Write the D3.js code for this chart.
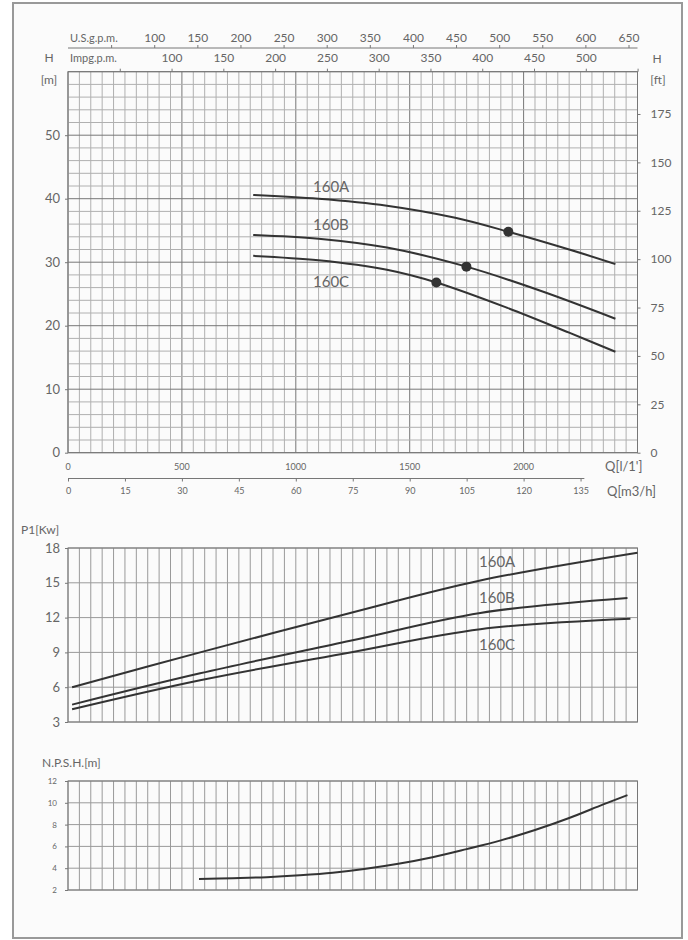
<!DOCTYPE html>
<html>
<head>
<meta charset="utf-8">
<script src="https://cdn.jsdelivr.net/npm/d3@7"></script>
<style>
  body { margin: 0; background: #fff; }
  svg { display: block; font-family: "Lato", "DejaVu Sans", sans-serif; }
  .lbl { fill: #666; }
  .axis text { fill: #666; }
  .axis line, .axis path { stroke: #777; }
</style>
</head>
<body>
<svg></svg>
<script>
const width = 688;
const height = 940;

// ---- data (Q in l/min) ----
const names = ["160A", "160B", "160C"];

// head curves [Q l/min, H m]
const headA = [[813, 40.6], [1100, 40.0], [1400, 38.9], [1700, 37.0], [1933, 34.8], [2200, 32.0], [2403, 29.7]];
const headB = [[813, 34.3], [1100, 33.7], [1400, 32.3], [1749, 29.3], [2074, 25.5], [2403, 21.1]];
const headC = [[813, 31.0], [1100, 30.3], [1400, 28.8], [1617, 26.8], [1929, 22.8], [2200, 18.9], [2403, 15.9]];
// duty points [Q, H]
const dutyPoints = [[1933, 34.8], [1749, 29.3], [1617, 26.8]];

// power curves [Q, P1 kW]
const powerA = [[18, 6.0], [580, 9.0], [1239, 12.4], [1810, 15.2], [2500, 17.6]];
const powerB = [[18, 4.5], [580, 7.2], [1239, 10.0], [1810, 12.4], [2456, 13.7]];
const powerC = [[18, 4.1], [580, 6.6], [1239, 9.0], [1810, 11.0], [2469, 11.9]];

// NPSH curve [Q, m]
const npsh = [[575, 3.0], [724, 3.08], [873, 3.18], [1018, 3.35], [1162, 3.58], [1300, 3.92],
  [1450, 4.4], [1600, 5.0], [1750, 5.75], [1900, 6.55], [2050, 7.5], [2200, 8.6],
  [2350, 9.85], [2456, 10.7]];

// tick values
const hTicks = [0, 10, 20, 30, 40, 50];
const ftTicks = [0, 25, 50, 75, 100, 125, 150, 175];
const usTicks = d3.range(50, 651, 50);
const impTicks = d3.range(50, 551, 50);
const lminLabels = [0, 500, 1000, 1500, 2000];
const m3hTicks = d3.range(0, 136, 15);
const pTicks = [3, 6, 9, 12, 15, 18];
const nTicks = [2, 4, 6, 8, 10, 12];

// ---- scales ----
const x = d3.scaleLinear().domain([0, 2500]).range([68, 637.5]);
const xUS = d3.scaleLinear().domain([0, 2500 / 3.7854]).range(x.range());
const xImp = d3.scaleLinear().domain([0, 2500 / 4.54609]).range(x.range());
const xM3 = d3.scaleLinear().domain([0, 150]).range(x.range());
const yH = d3.scaleLinear().domain([0, 60]).range([452.7, 71.7]);
const yFt = d3.scaleLinear().domain([0, 60 / 0.3048]).range(yH.range());
const yP = d3.scaleLinear().domain([3, 18]).range([722, 548]);
const yN = d3.scaleLinear().domain([2, 12]).range([890, 781]);

const svg = d3.select("svg").attr("width", width).attr("height", height);

// frame
svg.append("rect")
  .attr("x", 13).attr("y", 3).attr("width", 669).attr("height", 935)
  .attr("fill", "#fbfbfb").attr("stroke", "#999").attr("stroke-width", 2);

// grid helper
function grid(yScale, xStep, yStep, xMajor, yMajor, minorColor) {
  const g = svg.append("g");
  const [y0, y1] = yScale.domain();
  const [r0, r1] = yScale.range();
  g.selectAll(".v").data(d3.range(0, 2501, xStep)).enter().append("line")
    .attr("x1", d => x(d)).attr("x2", d => x(d))
    .attr("y1", r0).attr("y2", r1)
    .attr("stroke", d => (xMajor && d % xMajor === 0) ? "#777" : minorColor)
    .attr("stroke-width", 1);
  g.selectAll(".h").data(d3.range(y0, y1 + 0.001, yStep)).enter().append("line")
    .attr("x1", x(0)).attr("x2", x(2500))
    .attr("y1", d => yScale(d)).attr("y2", d => yScale(d))
    .attr("stroke", d => (yMajor && d % yMajor === 0) ? "#777" : minorColor)
    .attr("stroke-width", 1);
  g.append("rect")
    .attr("x", x(0)).attr("y", r1).attr("width", x(2500) - x(0)).attr("height", r0 - r1)
    .attr("fill", "none").attr("stroke", "#777");
  return g;
}

grid(yH, 50, 2, 500, 10, "#b0b0b0");
grid(yP, 50, 3, null, null, "#9a9a9a");
grid(yN, 50, 2, null, null, "#9a9a9a");

function styleAxis(g, size) {
  g.attr("class", "axis").attr("font-family", null).attr("font-size", size);
}

// ---- head chart axes ----
const axLeft = svg.append("g").attr("transform", `translate(${x(0)},0)`)
  .call(d3.axisLeft(yH).tickValues(hTicks).tickSize(3).tickPadding(5));
styleAxis(axLeft, 13);
axLeft.select(".domain").remove();

const axRight = svg.append("g").attr("transform", `translate(${x(2500)},0)`)
  .call(d3.axisRight(yFt).tickValues(ftTicks).tickSize(3).tickPadding(10));
styleAxis(axRight, 12);
axRight.select(".domain").remove();

const axUS = svg.append("g").attr("transform", "translate(0,48)")
  .call(d3.axisTop(xUS).tickValues(usTicks).tickSize(3).tickPadding(3)
    .tickFormat(d => d >= 100 ? d : ""));
styleAxis(axUS, 12);
axUS.select(".domain").attr("d", `M${x(0)},0H${x(2500)}`);

const axImp = svg.append("g").attr("transform", `translate(0,${yH(60)})`)
  .call(d3.axisTop(xImp).tickValues(impTicks).tickSize(3).tickPadding(7)
    .tickFormat(d => (d >= 100 && d <= 500) ? d : ""));
styleAxis(axImp, 12);
axImp.select(".domain").remove();

svg.append("text").attr("class", "lbl").attr("x", 70).attr("y", 42)
  .attr("font-size", 11).text("U.S.g.p.m.");
svg.append("text").attr("class", "lbl").attr("x", 70).attr("y", 62)
  .attr("font-size", 11).text("Impg.p.m.");
svg.append("text").attr("class", "lbl").attr("x", 49).attr("y", 62)
  .attr("text-anchor", "middle").attr("font-size", 12).text("H");
svg.append("text").attr("class", "lbl").attr("x", 49).attr("y", 84)
  .attr("text-anchor", "middle").attr("font-size", 12).text("[m]");
svg.append("text").attr("class", "lbl").attr("x", 657).attr("y", 63)
  .attr("text-anchor", "middle").attr("font-size", 12).text("H");
svg.append("text").attr("class", "lbl").attr("x", 658).attr("y", 84)
  .attr("text-anchor", "middle").attr("font-size", 12).text("[ft]");

// bottom l/min labels
svg.append("g").selectAll("text").data(lminLabels).enter().append("text")
  .attr("class", "lbl").attr("x", d => x(d)).attr("y", 470)
  .attr("text-anchor", "middle").attr("font-size", 9).text(d => d);
svg.append("text").attr("class", "lbl").attr("x", 605).attr("y", 471)
  .attr("font-size", 13).text("Q[l/1']");

// m3/h axis
const axM3 = svg.append("g").attr("transform", "translate(0,478.5)")
  .call(d3.axisBottom(xM3).tickValues(m3hTicks).tickSize(3).tickPadding(6));
styleAxis(axM3, 9);
axM3.select(".domain").attr("d", `M${x(0)},0H${xM3(136)}`);
svg.append("text").attr("class", "lbl").attr("x", 607).attr("y", 496)
  .attr("font-size", 13).text("Q[m3/h]");

// head curves
const line = yScale => d3.line().x(d => x(d[0])).y(d => yScale(d[1])).curve(d3.curveCatmullRom.alpha(0.5));
[headA, headB, headC].forEach(s => {
  svg.append("path").datum(s).attr("d", line(yH))
    .attr("fill", "none").attr("stroke", "#333").attr("stroke-width", 2);
});
svg.append("g").selectAll("circle").data(dutyPoints).enter().append("circle")
  .attr("cx", d => x(d[0])).attr("cy", d => yH(d[1])).attr("r", 5).attr("fill", "#333");

const headLabelY = [192, 230, 287];
svg.append("g").selectAll("text").data(names).enter().append("text")
  .attr("class", "lbl").attr("x", 313).attr("y", (d, i) => headLabelY[i])
  .attr("font-size", 15).attr("fill", "#555").text(d => d);

// ---- power chart ----
svg.append("text").attr("class", "lbl").attr("x", 21).attr("y", 534)
  .attr("font-size", 12).text("P1[Kw]");
const axP = svg.append("g").attr("transform", `translate(${x(0)},0)`)
  .call(d3.axisLeft(yP).tickValues(pTicks).tickSize(3).tickPadding(5));
styleAxis(axP, 13);
axP.select(".domain").remove();

[powerA, powerB, powerC].forEach(s => {
  svg.append("path").datum(s).attr("d", line(yP))
    .attr("fill", "none").attr("stroke", "#333").attr("stroke-width", 2);
});
const powerLabelY = [567, 603, 650];
svg.append("g").selectAll("text").data(names).enter().append("text")
  .attr("class", "lbl").attr("x", 479).attr("y", (d, i) => powerLabelY[i])
  .attr("font-size", 15).text(d => d);

// ---- NPSH chart ----
svg.append("text").attr("class", "lbl").attr("x", 42).attr("y", 767)
  .attr("font-size", 12).text("N.P.S.H.[m]");
const axN = svg.append("g").attr("transform", `translate(${x(0)},0)`)
  .call(d3.axisLeft(yN).tickValues(nTicks).tickSize(3).tickPadding(8));
styleAxis(axN, 8);
axN.select(".domain").remove();

svg.append("path").datum(npsh).attr("d", line(yN))
  .attr("fill", "none").attr("stroke", "#333").attr("stroke-width", 2);
</script>
</body>
</html>
